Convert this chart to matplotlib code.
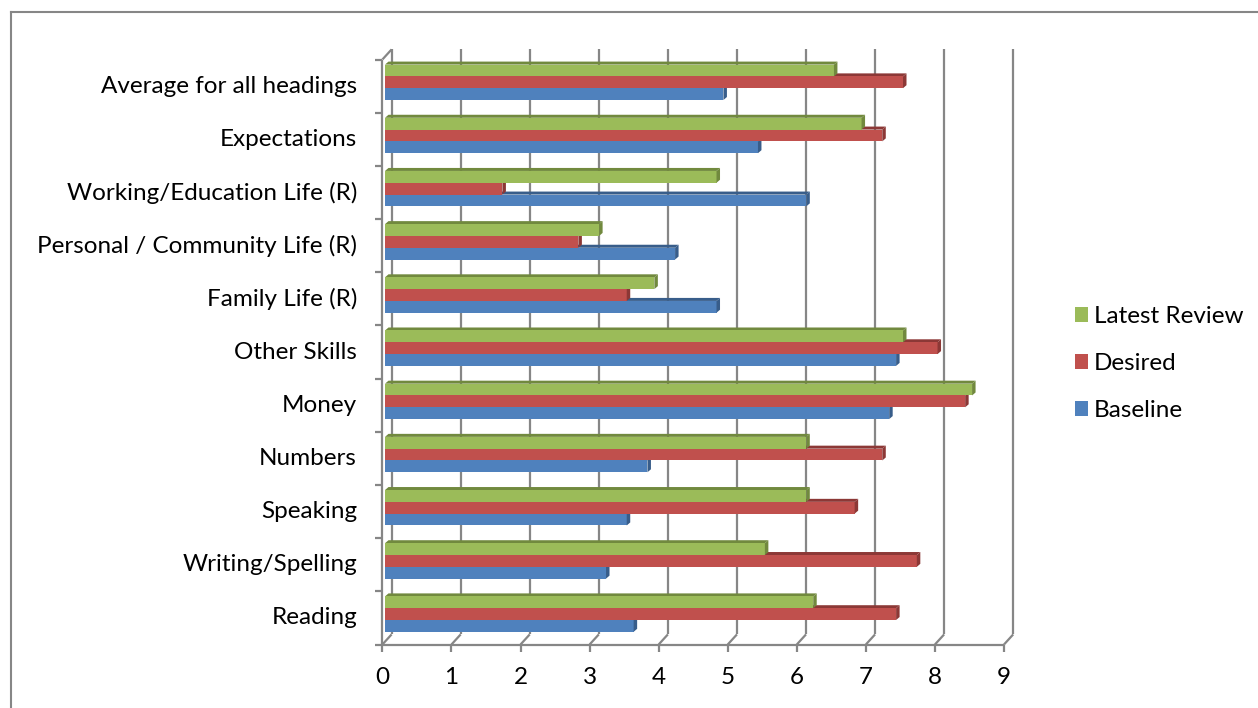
import matplotlib
matplotlib.use("Agg")
import matplotlib.pyplot as plt
from matplotlib.patches import Polygon, Patch
from matplotlib.lines import Line2D

categories = [
    "Reading", "Writing/Spelling", "Speaking", "Numbers", "Money",
    "Other Skills", "Family Life (R)", "Personal / Community Life (R)",
    "Working/Education Life (R)", "Expectations", "Average for all headings",
]
baseline = [3.6, 3.2, 3.5, 3.8, 7.3, 7.4, 4.8, 4.2, 6.1, 5.4, 4.9]
desired = [7.4, 7.7, 6.8, 7.2, 8.4, 8.0, 3.5, 2.8, 1.7, 7.2, 7.5]
latest = [6.2, 5.5, 6.1, 6.1, 8.5, 7.5, 3.9, 3.1, 4.8, 6.9, 6.5]
series_names = ["Baseline", "Desired", "Latest Review"]
x_ticks = list(range(10))

face_colors = ["#4F81BD", "#C0504D", "#9BBB59"]
side_colors = ["#385D8A", "#8C3836", "#71893E"]
grid_c = "#868686"
FONT = "Lato"
FS = 17.5

W, H, DPI = 1258, 708, 100
fig = plt.figure(figsize=(W / DPI, H / DPI), dpi=DPI)
fig.patch.set_facecolor("white")

# axes cover the plane in which the bar fronts sit
ax_l, ax_r = 385.0, 1006.6
ax_top, ax_bot = 55.7, 640.7
ax = fig.add_axes([ax_l / W, (H - ax_bot) / H, (ax_r - ax_l) / W, (ax_bot - ax_top) / H])
n = len(categories)
xmax = x_ticks[-1]
ax.set_xlim(0, xmax)
ax.set_ylim(-0.5, n - 0.5)
ax.axis("off")

ux = (ax_r - ax_l) / xmax          # pixels per value unit
uy = (ax_bot - ax_top) / n         # pixels per category slot

def px(dx, dy):
    """pixel offset (dy positive = up) -> data offset"""
    return dx / ux, dy / uy

fx, fy = px(-2.6, -3.8)   # front plane of the 3-D box
bx, by = px(6.6, 6.3)     # back wall
ddx, ddy = px(3.5, 3.0)   # depth of each bar

ylo, yhi = -0.5, n - 0.5
lw_axis = 1.6
kw = dict(color=grid_c, lw=lw_axis, clip_on=False, solid_capstyle="butt")

# back wall gridlines and floor connectors
for v in x_ticks:
    ax.plot([v + bx, v + bx], [ylo + by, yhi + by], zorder=1, **kw)
    ax.plot([v + fx, v + bx], [ylo + fy, ylo + by], zorder=1, **kw)
# top edge of the side wall
ax.plot([fx, bx], [yhi + fy, yhi + by], zorder=1, **kw)

# front value axis with tick marks
tick_len_x = 7 / uy
ax.plot([fx, xmax + fx], [ylo + fy, ylo + fy], zorder=6, **kw)
for v in x_ticks:
    ax.plot([v + fx, v + fx], [ylo + fy, ylo + fy - tick_len_x], zorder=6, **kw)
    ax.text(v + fx, ylo + fy - 33.5 / uy, str(v), ha="center", va="center",
            fontsize=FS, family=FONT, color="black")

# front category axis with tick marks at slot boundaries
tick_len_y = 7 / ux
ax.plot([fx, fx], [ylo + fy, yhi + fy], zorder=6, **kw)
for b in range(n + 1):
    yb = ylo + b + fy
    ax.plot([fx - tick_len_y, fx], [yb, yb], zorder=6, **kw)
for k, name in enumerate(categories):
    ax.text(fx - 25.4 / ux, k + fy, name, ha="right", va="center",
            fontsize=FS, family=FONT, color="black")

# 3-D bars: front faces from barh, then the top and end faces
bw = 0.222
series = [baseline, desired, latest]
ypos = list(range(n))
for i, vals in enumerate(series):
    centers = [k - 1.5 * bw + (i + 0.5) * bw for k in ypos]
    ax.barh(centers, vals, height=bw, color=face_colors[i], edgecolor="none",
            zorder=2 + 2 * i)
    for c, v in zip(centers, vals):
        y0, y1 = c - bw / 2, c + bw / 2
        top = Polygon([(0, y1), (v, y1), (v + ddx, y1 + ddy), (ddx, y1 + ddy)],
                      closed=True, facecolor=side_colors[i], edgecolor="none",
                      zorder=1.5 + 2 * i)
        end = Polygon([(v, y0), (v + ddx, y0 + ddy), (v + ddx, y1 + ddy), (v, y1)],
                      closed=True, facecolor=side_colors[i], edgecolor="none",
                      zorder=2.5 + 2 * i)
        ax.add_patch(top)
        ax.add_patch(end)

# legend
handles = [Patch(facecolor=face_colors[i], edgecolor="none") for i in (2, 1, 0)]
labels = [series_names[i] for i in (2, 1, 0)]
fig.legend(handles, labels, loc="center left",
           bbox_to_anchor=(1075 / W, 1 - 363.5 / H), frameon=False,
           prop={"family": FONT, "size": FS}, borderpad=0, handlelength=0.53,
           handleheight=0.53, handletextpad=0.25, labelspacing=1.07,
           borderaxespad=0)

# chart frame (top and left edges)
fig.add_artist(Line2D([11 / W, 1.0], [1 - 11.5 / H, 1 - 11.5 / H],
                      transform=fig.transFigure, color=grid_c, lw=1.5))
fig.add_artist(Line2D([11 / W, 11 / W], [0, 1 - 11.5 / H],
                      transform=fig.transFigure, color=grid_c, lw=1.5))

fig.savefig("out.png", dpi=DPI, facecolor="white")
